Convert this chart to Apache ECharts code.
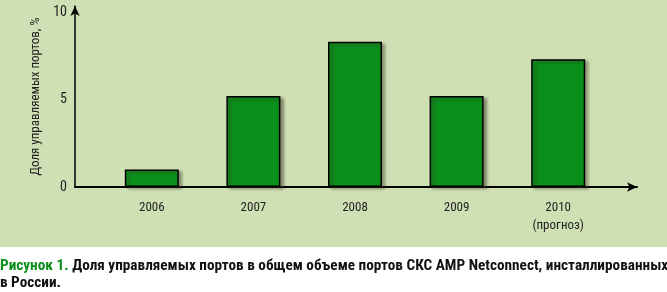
<!DOCTYPE html>
<html><head><meta charset="utf-8">
<script src="https://cdn.jsdelivr.net/npm/echarts@6/dist/echarts.min.js"></script>
<style>html,body{margin:0;padding:0;background:#fff}#c{width:667px;height:292px}</style>
</head><body><div id="c"></div>
<script>
const categories = ['2006', '2007', '2008', '2009', '2010\n(прогноз)'];
const shares = [1.0, 5.2, 8.3, 5.2, 7.3];
const yTicks = [0, 5, 10];
const yName = 'Доля управляемых портов, %';
const captionLead = 'Рисунок 1.';
const captionLine1 = ' Доля управляемых портов в общем объеме портов СКС AMP Netconnect, инсталлированных';
const captionLine2 = 'в России.';

const FONT = '"Roboto Condensed", "Open Sans Condensed", "DejaVu Sans Condensed", sans-serif';
const chart = echarts.init(document.getElementById('c'), null, {renderer: 'canvas'});
const gridTop = 6, gridBottom = 292 - 187;
const capStretch = 1.09;
chart.setOption({
  animation: false,
  backgroundColor: '#ffffff',
  graphic: [
    {type: 'rect', z: -10, shape: {x: 0, y: 0, width: 667, height: 247}, style: {fill: '#cfe0b5'}},
    {type: 'text', x: 0, y: 259, scaleX: capStretch, style: {
      text: '{g|' + captionLead + '}{b|' + captionLine1 + '}',
      rich: {
        g: {fontFamily: FONT, fontWeight: 'bold', fontSize: 14, fill: '#0a8f1a'},
        b: {fontFamily: FONT, fontWeight: 'bold', fontSize: 14, fill: '#111'}
      }}},
    {type: 'text', x: 0, y: 276, scaleX: capStretch, style: {text: captionLine2, fontFamily: FONT, fontWeight: 'bold', fontSize: 14, fill: '#111'}}
  ],
  grid: [
    {left: 75, right: 30, top: gridTop, bottom: gridBottom, containLabel: false},
    {left: 101, right: 58, top: gridTop, bottom: gridBottom, containLabel: false}
  ],
  xAxis: [
    {type: 'value', gridIndex: 0, min: 0, max: 1, show: true,
     axisLine: {show: true, symbol: ['none', 'arrow'], symbolSize: [7, 10], lineStyle: {color: '#000', width: 2}},
     axisTick: {show: false}, axisLabel: {show: false}, splitLine: {show: false}},
    {type: 'category', gridIndex: 1, data: categories,
     axisLine: {show: false}, axisTick: {show: false},
     axisLabel: {fontFamily: FONT, fontSize: 13, color: '#222', margin: 12, lineHeight: 18}}
  ],
  yAxis: [
    {type: 'value', gridIndex: 0, min: 0, max: 10.35, interval: 5,
     name: yName, nameLocation: 'middle', nameGap: 32, nameRotate: 90,
     nameTextStyle: {fontFamily: FONT, fontSize: 13, color: '#222'},
     axisLine: {show: true, symbol: ['none', 'arrow'], symbolSize: [7, 10], lineStyle: {color: '#000', width: 1.5}},
     axisTick: {show: false}, splitLine: {show: false},
     axisLabel: {fontFamily: FONT, fontSize: 14, color: '#222', margin: 8,
       formatter: v => yTicks.indexOf(v) >= 0 ? String(v) : ''}},
    {type: 'value', gridIndex: 1, min: 0, max: 10.35, show: false}
  ],
  series: [{
    type: 'bar', xAxisIndex: 1, yAxisIndex: 1, data: shares, barWidth: 54,
    itemStyle: {color: '#0a8f1a', borderColor: '#000', borderWidth: 1.5,
      shadowColor: 'rgba(60,60,40,0.55)', shadowOffsetX: 3, shadowOffsetY: 2, shadowBlur: 3}
  }]
});
</script></body></html>
